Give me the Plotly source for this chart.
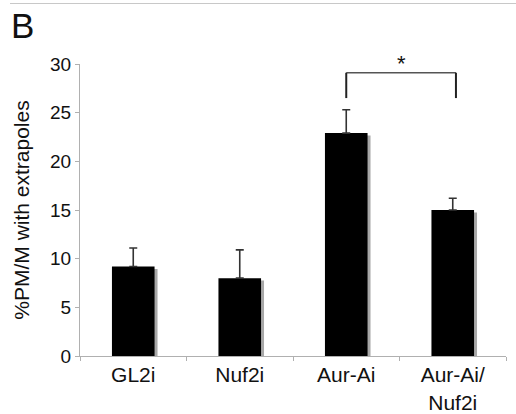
import plotly.graph_objects as go

categories = ["GL2i", "Nuf2i", "Aur-Ai", "Aur-Ai/<br>Nuf2i"]
values = [9.2, 8.0, 22.9, 15.0]
errors = [1.9, 2.9, 2.4, 1.2]
y_ticks = [0, 5, 10, 15, 20, 25, 30]
# significance bracket between Aur-Ai and Aur-Ai/Nuf2i
bracket_pair = [2, 3]
bracket_low = 26.5
bracket_high = 29.1

FONT = "Liberation Sans, Arial, sans-serif"
AXC = "#b0b0b0"
W, H = 516, 414
ML, MR, MT, MB = 80, 10, 64, 58
PW, PH = W - ML - MR, H - MT - MB

fig = go.Figure()
# drop shadow
fig.add_trace(go.Bar(
    x=categories, y=values, base=[-0.25] * len(values),
    width=0.4, offset=-0.2 + 0.028,
    marker=dict(color="#a8a8a8", line=dict(width=0)),
    hoverinfo="skip", showlegend=False,
))
fig.add_trace(go.Bar(
    x=categories, y=values, width=0.4, offset=-0.2,
    marker=dict(color="#000000", line=dict(width=0)),
    error_y=dict(type="data", array=errors, arrayminus=[0] * len(errors),
                 symmetric=False, color="#333333", thickness=1.6, width=4),
    showlegend=False,
))

fig.update_layout(
    width=W, height=H,
    margin=dict(l=ML, r=MR, t=MT, b=MB, autoexpand=False),
    paper_bgcolor="white", plot_bgcolor="white",
    barmode="overlay",
    font=dict(family=FONT, color="#111111", size=19),
    xaxis=dict(
        type="category", showgrid=False, showline=True, linecolor=AXC, linewidth=1,
        ticks="outside", tickson="boundaries", ticklen=4, tickcolor=AXC,
        tickfont=dict(size=21), range=[-0.5, 3.5], automargin=False,
    ),
    yaxis=dict(
        range=[0, 30], tickvals=y_ticks, showgrid=False, zeroline=False,
        showline=True, linecolor=AXC, linewidth=1,
        ticks="outside", ticklen=4, tickcolor=AXC,
        tickfont=dict(size=19), automargin=False,
        title=dict(text="%PM/M with extrapoles", font=dict(size=21), standoff=14),
    ),
    showlegend=False,
)

i0, i1 = bracket_pair
fig.add_shape(type="line", xref="x", yref="y", x0=i0, x1=i0 + 1.03,
              y0=bracket_high, y1=bracket_high, line=dict(color="#555555", width=1.3))
fig.add_shape(type="line", xref="x", yref="y", x0=i0, x1=i0,
              y0=bracket_low, y1=bracket_high, line=dict(color="#222222", width=2))
fig.add_shape(type="line", xref="x", yref="y", x0=i1 + 0.03, x1=i1 + 0.03,
              y0=bracket_low, y1=bracket_high, line=dict(color="#222222", width=2))
fig.add_annotation(x=(i0 + i1) / 2 + 0.02, y=bracket_high, xref="x", yref="y",
                   text="*", showarrow=False, yanchor="bottom",
                   font=dict(size=22, color="#111111"), yshift=-5)

# panel letter and top rule (paper coords relative to plot area)
def px_x(px):
    return (px - ML) / PW

def px_y(py):
    return 1 + (MT - py) / PH

fig.add_annotation(x=px_x(9), y=px_y(25), xref="paper", yref="paper",
                   text="B", showarrow=False, xanchor="left", yanchor="middle",
                   font=dict(size=35, color="#111111"))
fig.add_shape(type="line", xref="paper", yref="paper",
              x0=px_x(10), x1=px_x(W), y0=px_y(3.5), y1=px_y(3.5),
              line=dict(color="#c8c8c8", width=1))

fig.write_html("out.html", config={"displayModeBar": False},
               post_script="document.body.style.margin='0';")
